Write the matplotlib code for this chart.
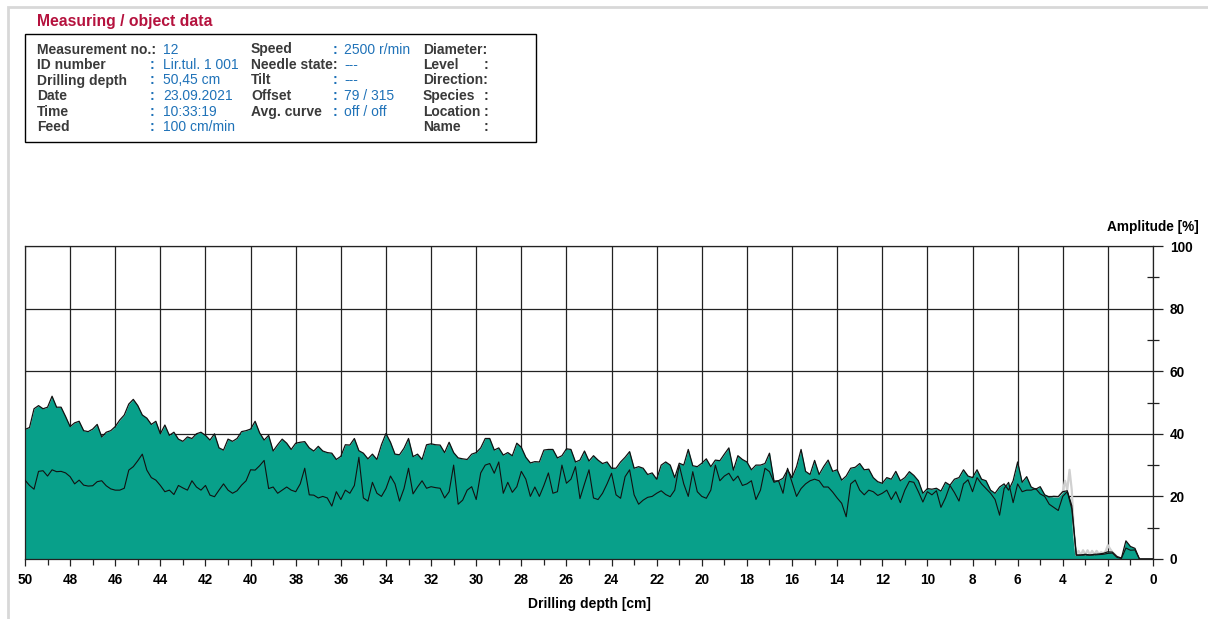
import numpy as np
import matplotlib
matplotlib.use("Agg")
import matplotlib.pyplot as plt
from matplotlib.patches import Rectangle
from matplotlib.ticker import MultipleLocator

plt.rcParams['font.family'] = ['Liberation Sans', 'DejaVu Sans']

# drilling depth grid (cm), 0.2 cm steps from 50 down to 0
depth = np.linspace(50.0, 0.0, 251)

# drilling resistance (feed curve, filled) in %
amp_drill = [
    41.4, 42, 48, 49, 48, 48.5, 52, 48.5, 48.5, 45.5, 42.3, 43.5, 44, 41, 40.7, 41.5, 43, 39, 40.5, 41,
    42.3, 44.4, 46, 49.5, 51, 49, 46, 45, 43, 44, 40, 42.8, 39.5, 40.5, 38.3, 37.6, 39, 38.5, 40, 40.5,
    39.5, 38, 40,
    35.5, 34.8, 38.3, 37.6, 38.5, 40.7, 41, 41.5, 44, 40.3, 38, 39.5, 34.5, 36.5, 38.3, 37, 35, 37, 37.3, 37.5,
    35.5, 34.5, 36, 34.5, 34, 33.8, 31.8, 32.8, 36.5, 36.4, 38.5, 34.6, 33.8, 32, 33.5, 31.8, 36.5, 40.1, 37.3, 33.5,
    33.3, 35.4,
    38.5, 32.7, 33.5, 31.8, 36.5, 36.8, 36.5, 36.4, 34, 37.3, 34, 32.3, 32, 31.8, 33.5, 34, 35.5, 38.5, 38.5, 34.8,
    35.5, 33.2, 34, 33, 37, 35.7, 32.5, 30.7, 31.1, 31, 34.8, 35, 35, 32.3, 33, 35.2, 35, 31, 31.6, 34.5,
    31.3, 33,
    31.6, 30.5, 31, 29, 29, 31, 32.5, 34.3, 29, 29.5, 29, 27, 27.5, 25.5, 30, 31, 30, 26, 30.6, 30,
    35, 29.8, 29.5, 30.6, 32, 29.5, 31.6, 31.4, 33.5, 35.5, 28.4, 33, 31.8, 31, 28.5, 30, 30, 30.5, 33.8, 24.9,
    25, 25.8,
    28.5, 26, 29.5, 35, 28, 27, 31.5, 27, 29.5, 31.6, 28, 28.5, 25.2, 26.5, 29, 29.3, 30.5, 28.5, 28.7, 26,
    24.7, 24.2, 26, 25.5, 28, 25, 26, 27.9, 26.7, 25, 21, 22.5, 22.3, 22.6, 21.7, 24.5, 23.6, 25.5, 26, 28.5,
    26.5, 26,
    28.5, 25.5, 25, 22, 21, 23, 24, 22, 25, 31, 24.5, 26.3, 23, 22.3, 23.1, 20.5, 19.8, 20, 19.9, 21.5,
    21.8, 17, 1.3, 1.3, 1.5, 1.3, 1.5, 1.6, 1.8, 2.3, 2.2, 0.8, 0.3, 5.8, 4, 3.4, 0, 0, 0, 0,
]

# torque curve in %
amp_torque = [
    25.2, 23.5, 22.3, 28, 28.2, 26.5, 28.5, 27.9, 28, 27.5, 26.3, 24, 25.2, 23.6, 23.3, 23.4, 24.7, 25, 23.4, 22.4,
    22, 22, 22.6, 28.4, 29.5, 31.4, 33.5, 28.4, 26, 25.2, 23.5, 21.5, 22, 20.6, 23.5, 22.7, 22, 25, 23, 22,
    23.5, 20.4, 19.9,
    22, 24, 22, 21, 21.8, 23.6, 25, 28.5, 28.4, 29.8, 31.5, 22.5, 23, 21, 22, 23, 22, 21.5, 24, 29,
    20.5, 20.4, 19.5, 20, 19.5, 16.9, 21.5, 19, 22, 21, 23.5, 32.5, 19.5, 18.5, 24.5, 21, 20, 22.5, 26.5, 24,
    18.5, 22.5,
    29, 20.8, 23, 25, 22.6, 23.1, 22.8, 22.6, 19.5, 21.5, 30, 17.5, 18.8, 22, 23.1, 19, 27.5, 30, 30.5, 27.4,
    31, 21, 24.5, 21.3, 23.1, 28, 25.5, 20, 23, 20, 23.5, 27.5, 21, 21.5, 30, 24.2, 25.5, 29.5, 19.3, 24,
    28.5, 19.5,
    19, 21, 24, 27.4, 20.5, 19.4, 26.3, 28.5, 20.5, 17.5, 18.8, 19.7, 20, 21, 21.8, 20.6, 19.9, 22, 30, 24,
    20, 27.9, 21.5, 20, 19.4, 22, 30, 25, 26.5, 27.4, 25, 26.5, 23.5, 24, 25, 19, 22, 29, 27.9, 24.5,
    25, 21,
    29, 24.5, 20, 22.5, 24, 25, 25.5, 25, 23, 23, 21.4, 19.5, 17.8, 13.5, 24, 25.2, 22, 20.5, 22, 21.5,
    20.3, 21, 22, 19, 21.5, 18, 22, 24.8, 24.5, 21.5, 18.2, 21.5, 20.5, 21.8, 16.5, 19.5, 23.5, 21.2, 18.5, 24,
    25.3, 21.5,
    26, 24, 22.5, 21, 19, 14, 22.5, 24.5, 18, 24, 21.5, 22, 22, 22.5, 20.8, 20, 17.5, 16.5, 15.5, 20,
    21.5, 16, 1.2, 1.2, 1.3, 1.2, 1.3, 1.4, 1.5, 1.8, 1.9, 0.5, 0.2, 3.5, 2.8, 2.9, 0, 0, 0, 0,
]

# unfiltered drill trace near the exit of the needle
raw_depth = [4.4, 4.2, 4.0, 3.9, 3.8, 3.7, 3.6, 3.5, 3.4, 3.3, 3.2, 3.1, 3.0, 2.9,
             2.8, 2.7, 2.6, 2.5, 2.4, 2.3, 2.2, 2.1, 2.0, 1.9, 1.8, 1.7, 1.6]
raw_amp = [20, 19.9, 21.5, 25, 22, 28.5, 22, 8, 1.3, 2.6, 1.3, 2.8, 1.4, 2.8,
           1.4, 2.6, 1.5, 2.6, 1.6, 2.2, 1.8, 2.5, 4.4, 3.2, 2.2, 1.5, 0.8]

info_left = [("Measurement no.:", "", "12"), ("ID number", ":", "Lir.tul. 1 001"),
             ("Drilling depth", ":", "50,45 cm"), ("Date", ":", "23.09.2021"),
             ("Time", ":", "10:33:19"), ("Feed", ":", "100 cm/min")]
info_mid = [("Speed", ":", "2500 r/min"), ("Needle state:", "", "---"),
            ("Tilt", ":", "---"), ("Offset", ":", "79 / 315"),
            ("Avg. curve", ":", "off / off")]
info_right = [("Diameter:", ""), ("Level", ":"), ("Direction:", ""),
              ("Species", ":"), ("Location", ":"), ("Name", ":")]

W, H = 1208, 619
TEAL = '#08a08a'
LBL = '#3a3a3a'
VAL = '#1f72b8'


def px(x, y):
    return x / W, 1 - y / H


fig = plt.figure(figsize=(W / 100, H / 100), dpi=100)

# panel frame
fig.patches.append(Rectangle(px(8, 640), (W + 20) / W, 633 / H, transform=fig.transFigure,
                             fill=False, edgecolor='#d8d8d8', lw=2))

fig.text(*px(37, 26), "Measuring / object data", color='#b5123e', fontsize=11.3,
         fontweight='bold', va='baseline', ha='left')
x0, y0 = px(25, 142)
fig.patches.append(Rectangle((x0, y0), 511 / W, 108 / H, transform=fig.transFigure,
                             fill=False, edgecolor='black', lw=1))

# text baselines of the info rows
rows_y = [53.5, 69, 84.5, 100, 115.5, 131]
fs = 10
for (lab, col, val), y in zip(info_left, rows_y):
    fig.text(*px(37, y), lab, fontsize=fs, fontweight='bold', color=LBL, va='baseline')
    if col:
        fig.text(*px(150, y), col, fontsize=fs, fontweight='bold', color=VAL, va='baseline')
    fig.text(*px(163, y), val, fontsize=fs, color=VAL, va='baseline')
for (lab, col, val), y in zip(info_mid, rows_y):
    fig.text(*px(251, y), lab, fontsize=fs, fontweight='bold', color=LBL, va='baseline')
    if col:
        fig.text(*px(333, y), col, fontsize=fs, fontweight='bold', color=VAL, va='baseline')
    fig.text(*px(344, y), val, fontsize=fs, color=VAL, va='baseline')
for (lab, col), y in zip(info_right, rows_y):
    fig.text(*px(423, y), lab, fontsize=fs, fontweight='bold', color=LBL, va='baseline')
    if col:
        fig.text(*px(484, y), col, fontsize=fs, fontweight='bold', color=LBL, va='baseline')

# amplitude chart
ax = fig.add_axes([25 / W, 1 - 559 / H, 1128 / W, 313 / H])
ax.set_xlim(50, 0)
ax.set_ylim(0, 100)

ax.fill_between(depth, 0, amp_drill, color=TEAL, lw=0, zorder=2)
ax.fill_between(depth, 0, amp_torque, color=TEAL, lw=0, zorder=2)
ax.plot(raw_depth, raw_amp, color='#d0d0d0', lw=1.6, zorder=3)
ax.plot(depth, amp_drill, color='#111111', lw=0.9, zorder=4)
ax.plot(depth, amp_torque, color='#111111', lw=0.8, zorder=4)

ax.xaxis.set_major_locator(MultipleLocator(2))
ax.xaxis.set_minor_locator(MultipleLocator(1))
ax.yaxis.set_major_locator(MultipleLocator(20))
ax.yaxis.set_minor_locator(MultipleLocator(10))
ax.yaxis.tick_right()
ax.grid(which='major', color='#222222', lw=0.9, zorder=1)
ax.set_axisbelow(True)

for s in ax.spines.values():
    s.set_color('#222222')
    s.set_linewidth(0.9)

ax.tick_params(axis='x', which='major', direction='out', length=5, width=0.9, pad=5,
               labelsize=9.8, color='#222222')
ax.tick_params(axis='x', which='minor', direction='out', length=4, width=0.9, color='#222222')
ax.tick_params(axis='y', which='major', direction='out', length=7, width=0.9, pad=5,
               labelsize=9.8, color='#222222')
ax.tick_params(axis='y', which='minor', direction='inout', length=8, width=0.9, color='#222222')
for t in ax.get_xticklabels() + ax.get_yticklabels():
    t.set_fontweight('bold')

ax.set_xlabel("Drilling depth [cm]", fontsize=10, fontweight='bold', labelpad=7)
fig.text(*px(1199, 227), "Amplitude [%]", fontsize=9.8, fontweight='bold', ha='right', va='center')

fig.savefig("out.png", dpi=100)
